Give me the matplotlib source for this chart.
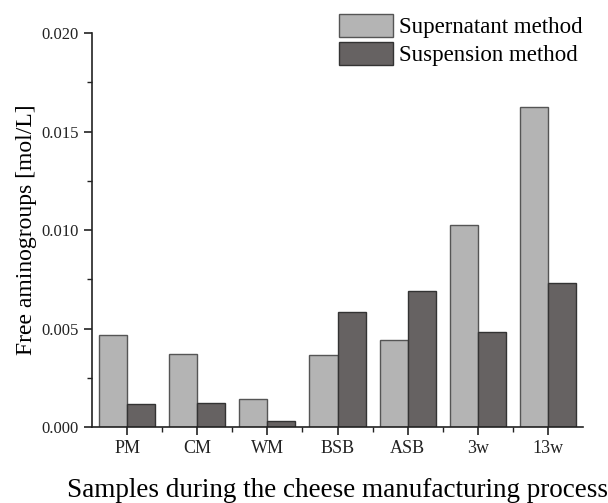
import numpy as np
import matplotlib
matplotlib.use('Agg')
import matplotlib.pyplot as plt
from matplotlib.ticker import MultipleLocator, FixedLocator, FormatStrFormatter

samples = ['PM', 'CM', 'WM', 'BSB', 'ASB', '3w', '13w']
supernatant = [0.00469, 0.00372, 0.00145, 0.00365, 0.00443, 0.01027, 0.01624]
suspension = [0.00118, 0.00122, 0.00032, 0.00587, 0.00690, 0.00485, 0.00734]

plt.rcParams['font.family'] = ['Liberation Serif', 'DejaVu Serif']

fig = plt.figure(figsize=(6.08, 5.03), dpi=100)
ax = fig.add_axes([0.1513, 0.1505, 0.8076, 0.7839])

x = np.arange(len(samples))
w = 0.4
ax.bar(x - w / 2, supernatant, w, color='#b4b4b4', edgecolor='#555555', linewidth=1.0,
       label='Supernatant method')
ax.bar(x + w / 2, suspension, w, color='#666262', edgecolor='#333333', linewidth=1.0,
       label='Suspension method')

ax.set_xlim(-0.5, len(samples) - 0.5)
ax.set_ylim(0, 0.020)
ax.set_xticks(x)
ax.set_xticklabels(samples)
ax.xaxis.set_minor_locator(FixedLocator(x[:-1] + 0.5))
ax.yaxis.set_major_locator(MultipleLocator(0.005))
ax.yaxis.set_minor_locator(MultipleLocator(0.0025))
ax.yaxis.set_major_formatter(FormatStrFormatter('%.3f'))

for s in ['top', 'right']:
    ax.spines[s].set_visible(False)
for s in ['left', 'bottom']:
    ax.spines[s].set_linewidth(1.2)
    ax.spines[s].set_color('#222222')

ax.tick_params(which='major', direction='out', length=6, width=1.2, colors='#222222')
ax.tick_params(which='minor', direction='out', length=3.5, width=1.0, colors='#222222')
ax.tick_params(axis='y', labelsize=12)
ax.tick_params(axis='x', labelsize=13)

ax.set_ylabel('Free aminogroups [mol/L]', fontsize=17, labelpad=3)
ax.set_xlabel('Samples during the cheese manufacturing process', fontsize=19.5, labelpad=15)

fig.legend(loc='upper left', bbox_to_anchor=(0.5576, 0.9722), frameon=False, fontsize=16.5,
           handlelength=2.35, handleheight=1.17, handletextpad=0.26, labelspacing=0.17,
           borderaxespad=0, borderpad=0)

fig.savefig('out.png', dpi=100)
